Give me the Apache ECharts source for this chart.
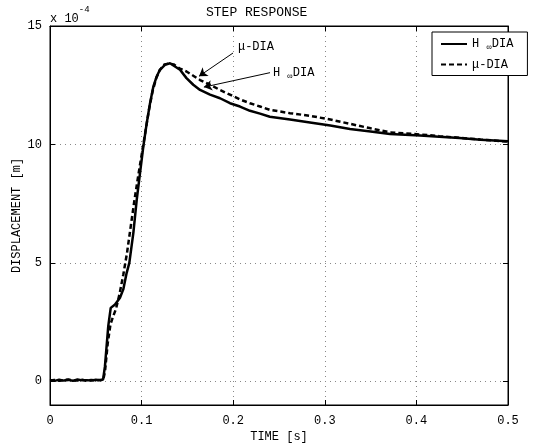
<!DOCTYPE html>
<html>
<head>
<meta charset="utf-8">
<script src="https://cdn.jsdelivr.net/npm/echarts@6/dist/echarts.min.js"></script>
<style>html,body{margin:0;padding:0;background:#fff}#c{width:549px;height:448px}</style>
</head>
<body>
<div id="c"></div>
<script>
// Time [s] and displacement [x 1e-4 m]
var tHinf = [0,0.005,0.01,0.015,0.02,0.025,0.03,0.035,0.04,0.045,0.05,0.055,0.058,
  0.060,0.0636,0.0663,0.0710,0.0764,0.0800,0.0837,0.0866,0.0910,0.0947,0.0983,0.1019,0.1056,0.1092,0.1128,0.1165,0.1200,0.1255,0.1310,0.1329,
  0.1419,0.1490,0.1564,0.1638,0.1747,0.1856,0.1965,0.2074,0.2183,0.2293,0.2400,0.2620,0.2838,0.3060,0.3275,0.3500,0.3712,0.4040,0.4250,0.4470,0.4700,0.5000];
var yHinf = [0.05,0.02,0.07,0.03,0.06,0.02,0.08,0.04,0.05,0.03,0.07,0.05,0.08,
  0.64,2.33,3.10,3.24,3.53,3.88,4.58,5.00,6.27,7.67,8.80,9.92,10.90,11.74,12.44,12.87,13.15,13.36,13.43,13.40,
  13.15,12.80,12.52,12.30,12.10,11.95,11.74,11.60,11.42,11.30,11.17,11.05,10.93,10.80,10.65,10.55,10.44,10.38,10.32,10.27,10.20,10.13];
var tMu = [0,0.005,0.01,0.015,0.02,0.025,0.03,0.035,0.04,0.045,0.05,0.055,0.058,
  0.0600,0.0630,0.0660,0.0690,0.0720,0.0760,0.0800,0.0840,0.0880,0.0920,0.0960,0.1000,0.1040,0.1080,0.1120,0.1160,0.1200,0.1250,0.1300,0.1350,
  0.1419,0.1490,0.1564,0.1638,0.1747,0.1856,0.1965,0.2074,0.2183,0.2293,0.2400,0.2620,0.2838,0.3060,0.3275,0.3500,0.3712,0.4040,0.4250,0.4470,0.4700,0.5000];
var yMu = [0.03,0.06,0.02,0.05,0.08,0.04,0.03,0.07,0.02,0.06,0.04,0.06,0.05,
  0.40,1.60,2.40,2.75,3.05,3.70,4.50,5.40,6.50,7.60,8.60,9.55,10.50,11.45,12.25,12.80,13.15,13.38,13.42,13.38,
  13.20,13.08,12.90,12.72,12.52,12.30,12.10,11.90,11.74,11.60,11.46,11.32,11.21,11.05,10.87,10.68,10.51,10.42,10.35,10.28,10.21,10.12];
var yTicks = [0,5,10,15];
var legendNames = ['Hinf','mu'];

function pairs(t, y){ return t.map(function(v,i){ return [v, y[i]]; }); }
var FONT = '"Liberation Mono","Courier New",monospace';
var chart = echarts.init(document.getElementById('c'), null, {renderer:'canvas'});
var subRich = {a:{fontFamily:FONT, fontSize:12, color:'#000'}, s:{fontFamily:FONT, fontSize:9, color:'#000', verticalAlign:'bottom', padding:[8,0,0,0]}};
function arrowLine(from, to){
  return {silent:true, symbol:['none','arrow'], symbolSize:8, symbolKeepAspect:true, z:5,
    lineStyle:{color:'#000', width:1, type:'solid'}, itemStyle:{color:'#000'}, label:{show:false},
    data:[[{coord:from, symbol:'none'},{coord:to, symbol:'arrow', symbolSize:8}]]};
}
chart.setOption({
  animation:false,
  backgroundColor:'#fff',
  textStyle:{fontFamily:FONT},
  title:{text:'STEP RESPONSE', left:201, top:1, textStyle:{fontFamily:FONT, fontSize:13, fontWeight:'normal', color:'#000'}},
  grid:{left:50, right:41, top:26, bottom:43, show:true, borderColor:'#000', borderWidth:1, containLabel:false},
  legend:{
    data:legendNames, orient:'vertical', left:432, top:32, padding:[6,14,5,8], itemGap:6,
    itemWidth:26, itemHeight:10, backgroundColor:'#fff', borderColor:'#000', borderWidth:1,
    itemStyle:{color:'transparent', borderColor:'transparent', borderWidth:0, opacity:0},
    textStyle:{fontFamily:FONT, fontSize:12, color:'#000', rich:subRich},
    formatter:function(n){ return n==='Hinf' ? '{a|H }{s|∞}{a|DIA}' : '{a|μ-DIA}'; }
  },
  xAxis:[{
    type:'value', min:0, max:0.5, interval:0.1, position:'bottom',
    name:'TIME [s]', nameLocation:'middle', nameGap:26, nameMoveOverlap:false,
    nameTextStyle:{fontFamily:FONT, fontSize:12, color:'#000'},
    axisLine:{show:true, onZero:false, lineStyle:{color:'#000'}},
    axisTick:{show:true, inside:true, length:5, lineStyle:{color:'#000'}},
    axisLabel:{fontFamily:FONT, fontSize:12, color:'#000', margin:10},
    splitLine:{show:true, lineStyle:{color:'#888', type:[1,4], width:1}}
  },{
    type:'value', min:0, max:0.5, interval:0.1, position:'top',
    axisLine:{show:true, onZero:false, lineStyle:{color:'#000'}},
    axisTick:{show:true, inside:true, length:5, lineStyle:{color:'#000'}},
    axisLabel:{show:false}, splitLine:{show:false}
  }],
  yAxis:[{
    type:'value', min:-1, max:15, position:'left',
    name:'DISPLACEMENT [m]', nameLocation:'middle', nameGap:27, nameMoveOverlap:false,
    nameTextStyle:{fontFamily:FONT, fontSize:12, color:'#000'},
    axisLine:{show:true, onZero:false, lineStyle:{color:'#000'}},
    axisTick:{show:true, inside:true, length:5, customValues:yTicks, lineStyle:{color:'#000'}},
    axisLabel:{fontFamily:FONT, fontSize:12, color:'#000', margin:8, customValues:yTicks},
    splitLine:{show:true, lineStyle:{color:'#888', type:[1,4], width:1}}
  },{
    type:'value', min:-1, max:15, position:'right',
    axisLine:{show:true, onZero:false, lineStyle:{color:'#000'}},
    axisTick:{show:true, inside:true, length:5, customValues:yTicks, lineStyle:{color:'#000'}},
    axisLabel:{show:false}, splitLine:{show:false}
  }],
  graphic:[{
    type:'text', left:50, top:5,
    style:{text:'{a|x 10}{s|-4}', fontFamily:FONT,
      rich:{a:{fontFamily:FONT, fontSize:12, fill:'#000', padding:[8,0,0,0]}, s:{fontFamily:FONT, fontSize:9, fill:'#000', verticalAlign:'top'}}}
  }],
  series:[{
    name:'Hinf', type:'line', data:pairs(tHinf,yHinf), showSymbol:false, symbol:'none',
    lineStyle:{color:'#000', width:2.5, type:'solid'}, itemStyle:{color:'#000'},
    markLine:arrowLine([0.2402,13.03],[0.168,12.42]),
    markPoint:{symbol:'circle', symbolSize:0, silent:true,
      label:{show:true, position:'right', distance:0, fontFamily:FONT, color:'#000',
        formatter:'{a|H }{s|∞}{a|DIA}', rich:subRich},
      data:[{coord:[0.2434,13.02]}]}
  },{
    name:'mu', type:'line', data:pairs(tMu,yMu), showSymbol:false, symbol:'none',
    lineStyle:{color:'#000', width:2.5, type:[5,3]}, itemStyle:{color:'#000'},
    markLine:arrowLine([0.1998,13.86],[0.1627,12.88]),
    markPoint:{symbol:'circle', symbolSize:0, silent:true,
      label:{show:true, position:'right', distance:0, fontFamily:FONT, fontSize:12, color:'#000', formatter:'μ-DIA'},
      data:[{coord:[0.2052,14.1]}]}
  }]
});
</script>
</body>
</html>
